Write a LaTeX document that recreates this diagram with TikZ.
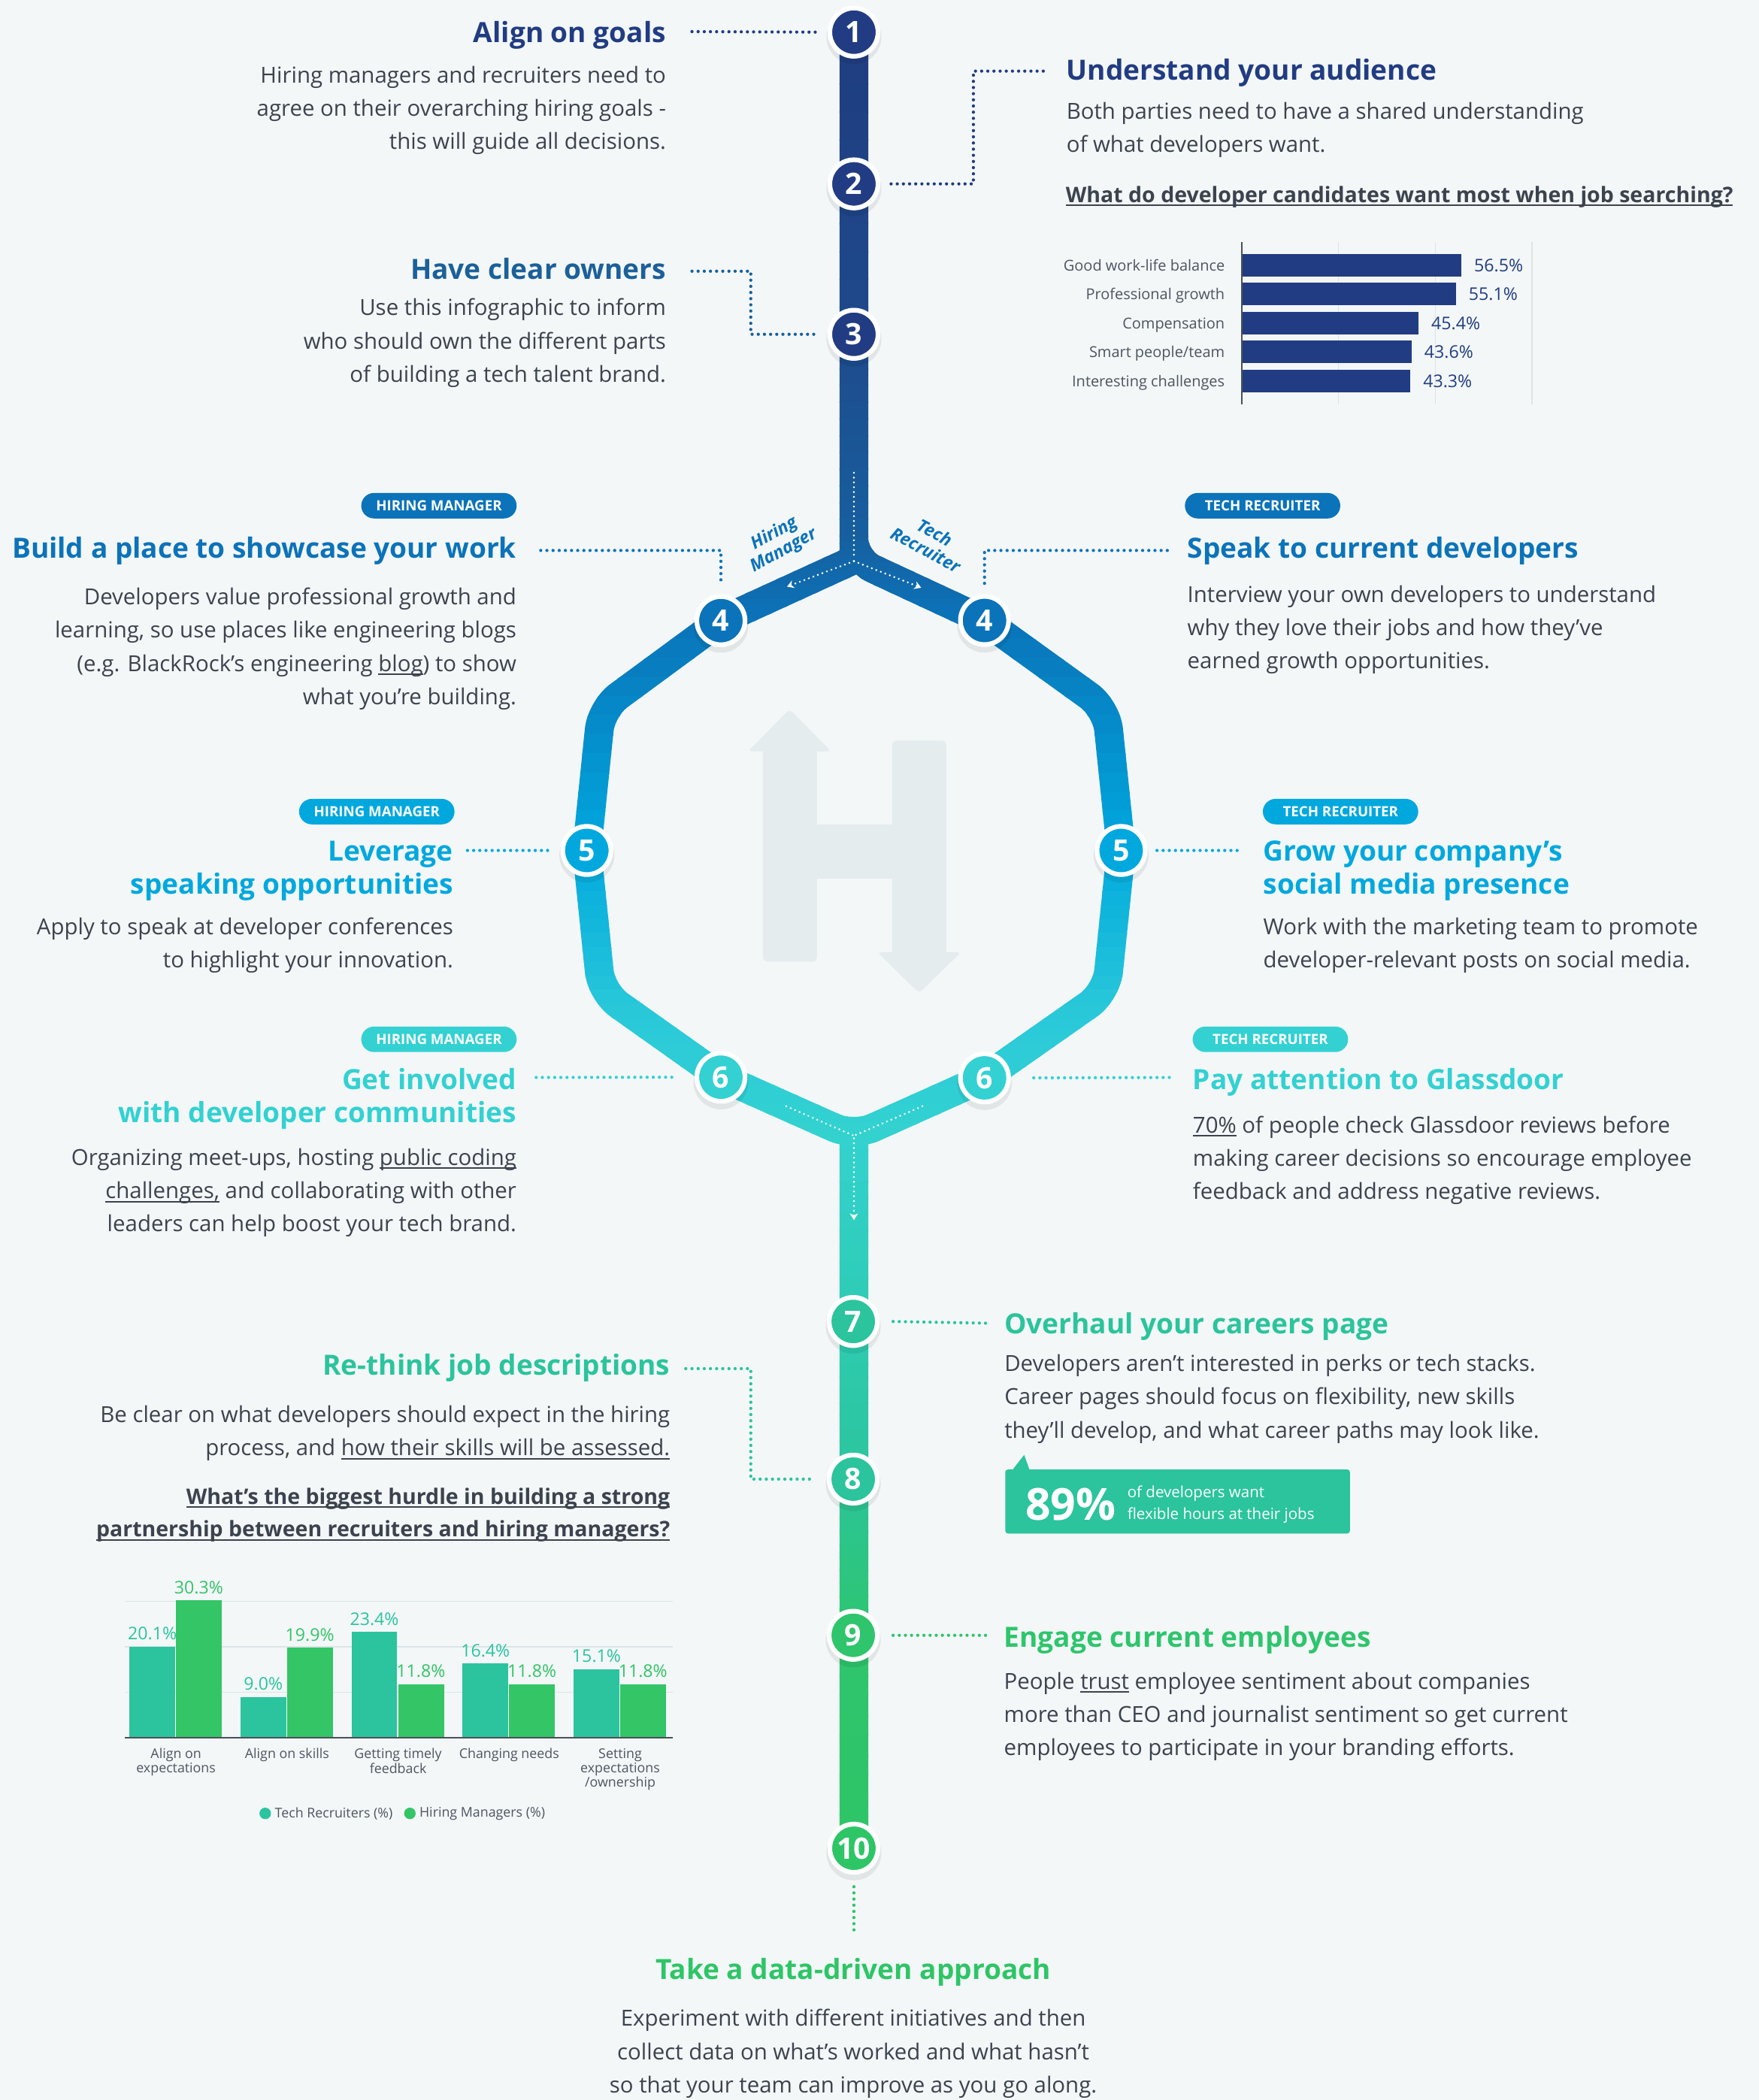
\documentclass[tikz,border=0pt]{standalone}
\usepackage{fontspec}
\defaultfontfeatures{}
\setmainfont{Open Sans}
\usetikzlibrary{arrows.meta}
\definecolor{bg}{HTML}{F3F7F8}
\definecolor{txt}{HTML}{3C434E}
\definecolor{txt2}{HTML}{4D5560}
\definecolor{cnavy}{HTML}{213C82}
\definecolor{cown}{HTML}{1B6099}
\definecolor{cfour}{HTML}{0B73B9}
\definecolor{cfive}{HTML}{00A8DE}
\definecolor{csix}{HTML}{33D1D2}
\definecolor{cseven}{HTML}{2BC49C}
\definecolor{cnine}{HTML}{2EC56C}
\definecolor{cten}{HTML}{2EC566}
\definecolor{ctr}{HTML}{2BC49E}
\definecolor{chm}{HTML}{33C566}
\definecolor{hlogo}{HTML}{E5ECED}
\definecolor{gridc}{HTML}{DCE4E6}
\definecolor{axisc}{HTML}{4A505A}
\definecolor{tA}{HTML}{203B80}
\definecolor{tB}{HTML}{1E4A8B}
\definecolor{tC}{HTML}{175F9F}
\definecolor{tD}{HTML}{0A73B9}
\definecolor{tE}{HTML}{00A8DE}
\definecolor{tF}{HTML}{2AC9D9}
\definecolor{tG}{HTML}{33D2D0}
\definecolor{tH}{HTML}{2ECBB2}
\definecolor{tI}{HTML}{2BC59B}
\definecolor{tJ}{HTML}{2EC56E}
\definecolor{tK}{HTML}{2EC566}
\newcommand\rblock[1]{\begin{tabular}[t]{@{}r@{}}#1\end{tabular}}
\newcommand\lblock[1]{\begin{tabular}[t]{@{}l@{}}#1\end{tabular}}
\newcommand\cblock[1]{\begin{tabular}[t]{@{}c@{}}#1\end{tabular}}
\newcommand\myul[1]{\setbox0=\hbox{#1}\rlap{\raisebox{-2.8pt}{\rule{\wd0}{1.1pt}}}\box0\relax}
\newcommand\trackdraw[1]{\draw[line width=21.5pt, #1]
  (637.5,24) -- (637.5,426)
  (637.5,418) -- (538.2,463.4) [rounded corners=16pt] -- (449,529) -- (438.1,635) -- (449,741) -- (538.2,804.3) -- (637.5,848.5)
  [sharp corners] -- (735,804.8) [rounded corners=16pt] -- (826,741) -- (837,635) -- (826,529) -- (735,463.3) -- (637.5,418) [sharp corners] -- cycle
  (637.5,840) -- (637.5,1380);}
\begin{document}
\begin{tikzpicture}[x=1pt,y=-1pt,
  body/.style={inner sep=0pt, text=txt, font=\fontsize{16.5}{24.8}\selectfont},
  ttl/.style={inner sep=0pt, font=\bfseries\fontsize{20.8}{24.8}\selectfont},
  qst/.style={inner sep=0pt, text=txt, font=\bfseries\fontsize{16}{24.4}\selectfont},
  pill/.style={rounded corners=9.5pt, minimum height=19pt, minimum width=116pt, inner sep=0pt, text=white, font=\bfseries\fontsize{10.5}{12}\selectfont},
  stepc/.style={circle, draw=white, line width=3.5pt, minimum size=36pt, inner sep=0pt, text=white, font=\bfseries\fontsize{22}{22}\selectfont},
  dots/.style={line width=2.4pt, dash pattern=on 0pt off 4.6pt, line cap=round},
  wdots/.style={white, line width=1.6pt, dash pattern=on 0pt off 3.6pt, line cap=round},
  clab/.style={inner sep=0pt, text=txt2, font=\fontsize{11.2}{13}\selectfont},
  vlab/.style={inner sep=0pt, font=\fontsize{13}{15}\selectfont},
  blab/.style={inner sep=0pt, text=txt2, font=\fontsize{10}{10.7}\selectfont}]
\useasboundingbox (0,0) rectangle (1313,1568);
\fill[bg] (0,0) rectangle (1313,1568);

% background H logo
\fill[hlogo, rounded corners=3pt] (569.5,556) rectangle (610,718);
\fill[hlogo, rounded corners=3pt] (558.5,561) -- (589.5,529.5) -- (620.5,561) -- cycle;
\fill[hlogo] (608,615.4) rectangle (668,656);
\fill[hlogo, rounded corners=3pt] (666,553) rectangle (706.5,715);
\fill[hlogo, rounded corners=3pt] (655,711) -- (686.2,741.5) -- (717.4,711) -- cycle;

% track with vertical colour gradient
\foreach \ya/\yb/\ca/\cb in {0/250/tA/tB, 250/400/tB/tC, 400/463/tC/tD, 463/634/tD/tE, 634/760/tE/tF, 760/846/tF/tG, 846/990/tG/tH, 990/1104/tH/tI, 1104/1221/tI/tJ, 1221/1400/tJ/tK}{
  \foreach \k in {0,...,11}{
    \pgfmathsetmacro\ys{\ya+(\yb-\ya)*\k/12}
    \pgfmathsetmacro\ye{\ya+(\yb-\ya)*(\k+1)/12+0.8}
    \pgfmathtruncatemacro\pc{100-(\k+0.5)*100/12}
    \begin{scope}
      \clip (0,\ys) rectangle (1313,\ye);
      \trackdraw{color=\ca!\pc!\cb}
    \end{scope}
  }
}

% white dotted flow arrows
\draw[wdots] (637.5,353) -- (637.5,417);
\draw[wdots, -{Stealth[length=5pt,width=6pt]}] (637.5,419) -- (587.6,438);
\draw[wdots, -{Stealth[length=5pt,width=6pt]}] (637.5,419) -- (687.7,438.8);
\draw[wdots] (587,826) -- (637.5,848);
\draw[wdots] (688.6,826) -- (637.5,848);
\draw[wdots, -{Stealth[length=5pt,width=6pt]}] (637.5,850) -- (637.5,911);

% HM / TR labels
\node[rotate=29, inner sep=0pt, align=center, text=cfour, font=\bfseries\itshape\fontsize{13}{14.5}\selectfont] (hmlab) at (581.5,405) {Hiring\\Manager};
\node[rotate=-28, inner sep=0pt, align=center, text=cfour, font=\bfseries\itshape\fontsize{13}{14.5}\selectfont] (trlab) at (694.5,404) {Tech\\Recruiter};

% shadows of step circles
\foreach \px/\py in {637.5/24, 637.5/137.3, 637.5/249.6, 538.2/463.4, 735/463.3, 438.1/635, 837/635, 538.2/804.3, 735/804.8, 637/986.7, 637/1104.4, 637/1221, 637.5/1380}{
  \fill[black, opacity=0.07] (\px,\py+3.5) circle (20.5);
}
% step circles
\node[stepc, fill=cnavy] (n1) at (637.5,24) {1};
\node[stepc, fill=cnavy] (n2) at (637.5,137.3) {2};
\node[stepc, fill=cnavy] (n3) at (637.5,249.6) {3};
\node[stepc, fill=cfour] (n4l) at (538.2,463.4) {4};
\node[stepc, fill=cfour] (n4r) at (735,463.3) {4};
\node[stepc, fill=cfive] (n5l) at (438.1,635) {5};
\node[stepc, fill=cfive] (n5r) at (837,635) {5};
\node[stepc, fill=csix] (n6l) at (538.2,804.3) {6};
\node[stepc, fill=csix] (n6r) at (735,804.8) {6};
\node[stepc, fill=cseven] (n7) at (637,986.7) {7};
\node[stepc, fill=cseven] (n8) at (637,1104.4) {8};
\node[stepc, fill=cnine] (n9) at (637,1221) {9};
\node[stepc, fill=cten] (n10) at (637.5,1380) {10};

% ---- step 1
\node[ttl, text=cnavy, anchor=base east] (t1) at (497.4,31.7) {Align on goals};
\node[body, anchor=base east] (b1) at (497.4,62) {\rblock{Hiring managers and recruiters need to\\agree on their overarching hiring goals -\\this will guide all decisions.}};
\draw[dots, cnavy] (516.6,23.6) -- ([xshift=-8pt]n1.west);

% ---- step 2
\node[ttl, text=cnavy, anchor=base west] (t2) at (796,60) {Understand your audience};
\node[body, anchor=base west] (b2) at (796,89) {\lblock{Both parties need to have a shared understanding\\of what developers want.}};
\node[qst, anchor=base west] (q2) at (795.5,151) {\myul{What do developer candidates want most when job searching?}};
\draw[dots, cnavy] ([xshift=8pt]n2.east) -- (726.7,137.3) -- (726.7,53.1) -- (781.9,53.1);

% bar chart 1
\foreach \gx in {999.3,1071.5,1143.6}{\draw[gridc, line width=0.9pt] (\gx,180.6) -- (\gx,302.2);}
\foreach \i/\v/\lab in {0/56.5/{Good work-life balance}, 1/55.1/{Professional growth}, 2/45.4/{Compensation}, 3/43.6/{Smart people/team}, 4/43.3/{Interesting challenges}}{
  \pgfmathsetmacro\yc{198+21.6*\i}
  \pgfmathsetmacro\xe{927.8+\v*2.887}
  \fill[cnavy] (927.8,\yc-8.5) rectangle (\xe,\yc+8.5);
  \node[clab, anchor=base east] (cl\i) at (914.5,\yc+4.3) {\lab};
  \node[vlab, text=cnavy, anchor=base west] (cv\i) at (\xe+9.5,\yc+4.8) {\v\%};
}
\draw[axisc, line width=1.3pt] (927.1,180.6) -- (927.1,302.2);

% ---- step 3
\node[ttl, text=cown, anchor=base east] (t3) at (497.4,208.5) {Have clear owners};
\node[body, anchor=base east] (b3) at (497.4,235.6) {\rblock{Use this infographic to inform\\who should own the different parts\\of building a tech talent brand.}};
\draw[dots, cown] (516.6,202.5) -- (560.5,202.5) -- (560.5,249.6) -- ([xshift=-8pt]n3.west);

% ---- step 4 left
\node[pill, fill=cfour] (p4l) at (327.7,377.6) {HIRING MANAGER};
\node[ttl, text=cfour, anchor=base east] (t4l) at (385.7,416.5) {Build a place to showcase your work};
\node[body, anchor=base east] (b4l) at (385.7,451.6) {\rblock{Developers value professional growth and\\learning, so use places like engineering blogs\\(e.g. BlackRock’s engineering \myul{blog}) to show\\what you’re building.}};
\draw[dots, cfour] (403.7,411) -- (538.2,411) -- ([yshift=8pt]n4l.north);

% ---- step 4 right
\node[pill, fill=cfour] (p4r) at (942.6,377.6) {TECH RECRUITER};
\node[ttl, text=cfour, anchor=base west] (t4r) at (886.3,416.5) {Speak to current developers};
\node[body, anchor=base west] (b4r) at (886.3,449.7) {\lblock{Interview your own developers to understand\\why they love their jobs and how they've\\earned growth opportunities.}};
\draw[dots, cfour] ([yshift=8pt]n4r.north) -- (735,411) -- (871.6,411);

% ---- step 5 left
\node[pill, fill=cfive] (p5l) at (281.3,606) {HIRING MANAGER};
\node[ttl, text=cfive, anchor=base east] (t5l) at (338.5,643) {\rblock{Leverage\\speaking opportunities}};
\node[body, anchor=base east] (b5l) at (338.5,697.7) {\rblock{Apply to speak at developer conferences\\to highlight your innovation.}};
\draw[dots, cfive] (349,635) -- ([xshift=-7pt]n5l.west);

% ---- step 5 right
\node[pill, fill=cfive] (p5r) at (1000.8,606) {TECH RECRUITER};
\node[ttl, text=cfive, anchor=base west] (t5r) at (943,643) {\lblock{Grow your company’s\\social media presence}};
\node[body, anchor=base west] (b5r) at (943,697.7) {\lblock{Work with the marketing team to promote\\developer-relevant posts on social media.}};
\draw[dots, cfive] ([xshift=7pt]n5r.east) -- (926.6,635);

% ---- step 6 left
\node[pill, fill=csix] (p6l) at (327.7,776) {HIRING MANAGER};
\node[ttl, text=csix, anchor=base east] (t6l) at (385.7,813.4) {\rblock{Get involved\\with developer communities}};
\node[body, anchor=base east] (b6l) at (385.7,870.1) {\rblock{Organizing meet-ups, hosting \myul{public coding}\\\myul{challenges,} and collaborating with other\\leaders can help boost your tech brand.}};
\draw[dots, csix] (400.3,804.5) -- ([xshift=-15pt]n6l.west);

% ---- step 6 right
\node[pill, fill=csix] (p6r) at (948.4,776) {TECH RECRUITER};
\node[ttl, text=csix, anchor=base west] (t6r) at (890.4,813.4) {Pay attention to Glassdoor};
\node[body, anchor=base west] (b6r) at (890.4,845.8) {\lblock{\myul{70\%} of people check Glassdoor reviews before\\making career decisions so encourage employee\\feedback and address negative reviews.}};
\draw[dots, csix] ([xshift=17pt]n6r.east) -- (875.7,804.5);

% ---- step 7
\node[ttl, text=cseven, anchor=base west] (t7) at (749.7,996) {Overhaul your careers page};
\node[body, anchor=base west] (b7) at (749.7,1024) {\lblock{Developers aren’t interested in perks or tech stacks.\\Career pages should focus on flexibility, new skills\\they’ll develop, and what career paths may look like.}};
\draw[dots, cseven] ([xshift=10pt]n7.east) -- (738.3,988);
\fill[cseven, rounded corners=2pt] (750.5,1097.2) rectangle (1007.8,1145);
\fill[cseven] (755.5,1098) -- (764.6,1086.3) -- (768.8,1098) -- cycle;
\node[inner sep=0pt, anchor=base west, text=white, font=\bfseries\fontsize{33}{33}\selectfont] (s89) at (765.5,1135) {89\%};
\node[inner sep=0pt, anchor=base west, text=white, font=\fontsize{11.5}{16.4}\selectfont] (s89t) at (841.5,1118) {\lblock{of developers want\\flexible hours at their jobs}};

% ---- step 8
\node[ttl, text=cseven, anchor=base east] (t8) at (500.4,1026.8) {Re-think job descriptions};
\node[body, anchor=base east] (b8) at (500.4,1062) {\rblock{Be clear on what developers should expect in the hiring\\process, and \myul{how their skills will be assessed.}}};
\node[qst, anchor=base east] (q8) at (500.4,1123) {\rblock{\myul{What's the biggest hurdle in building a strong}\\\myul{partnership between recruiters and hiring managers?}}};
\draw[dots, cseven] (512,1021.9) -- (560.5,1021.9) -- (560.5,1104.4) -- ([xshift=-10pt]n8.west);

% bar chart 2
\foreach \gy in {1195.7,1229.6,1263.5}{\draw[gridc, line width=0.9pt] (93,\gy) -- (502,\gy);}
\foreach \i/\vtr/\vhm in {0/20.1/30.3, 1/9.0/19.9, 2/23.4/11.8, 3/16.4/11.8, 4/15.1/11.8}{
  \pgfmathsetmacro\xqa{96.7+82.9*\i}
  \pgfmathsetmacro\xqb{\xqa+34.7}
  \pgfmathsetmacro\yqa{1297.4-\vtr*3.38}
  \pgfmathsetmacro\yqb{1297.4-\vhm*3.38}
  \fill[ctr] (\xqa,\yqa) rectangle (\xqa+34,1297.4);
  \fill[chm] (\xqb,\yqb) rectangle (\xqb+34.3,1297.4);
  \node[vlab, text=ctr, anchor=base] (trv\i) at (\xqa+17,\yqa-5) {\vtr\%};
  \node[vlab, text=chm, anchor=base] (hmv\i) at (\xqb+17,\yqb-5) {\vhm\%};
}
\draw[axisc, line width=1.3pt] (93,1297.4) -- (502,1297.4);
\node[blab, anchor=base] (g0) at (131.4,1313) {\cblock{Align on\\expectations}};
\node[blab, anchor=base] (g1) at (214.3,1313) {\cblock{Align on skills}};
\node[blab, anchor=base] (g2) at (297.2,1313) {\cblock{Getting timely\\feedback}};
\node[blab, anchor=base] (g3) at (380.1,1313) {\cblock{Changing needs}};
\node[blab, anchor=base] (g4) at (463,1313) {\cblock{Setting\\expectations\\/ownership}};
\fill[ctr] (198,1354) circle (4.3);
\node[blab, anchor=west] (lg1) at (205,1354) {Tech Recruiters (\%)};
\fill[chm] (306,1354) circle (4.3);
\node[blab, anchor=west] (lg2) at (313,1354) {Hiring Managers (\%)};

% ---- step 9
\node[ttl, text=cnine, anchor=base west] (t9) at (749.4,1229.8) {Engage current employees};
\node[body, anchor=base west] (b9) at (749.4,1261.2) {\lblock{People \myul{trust} employee sentiment about companies\\more than CEO and journalist sentiment so get current\\employees to participate in your branding efforts.}};
\draw[dots, cnine] ([xshift=10pt]n9.east) -- (737.6,1221);

% ---- step 10
\draw[dots, cten] ([yshift=-9pt]n10.south) -- (637.5,1444.5);
\node[ttl, text=cten, anchor=base] (t10) at (637,1478) {Take a data-driven approach};
\node[body, anchor=base] (b10) at (637,1512.9) {\cblock{Experiment with different initiatives and then\\collect data on what’s worked and what hasn’t\\so that your team can improve as you go along.}};
\end{tikzpicture}
\end{document}
